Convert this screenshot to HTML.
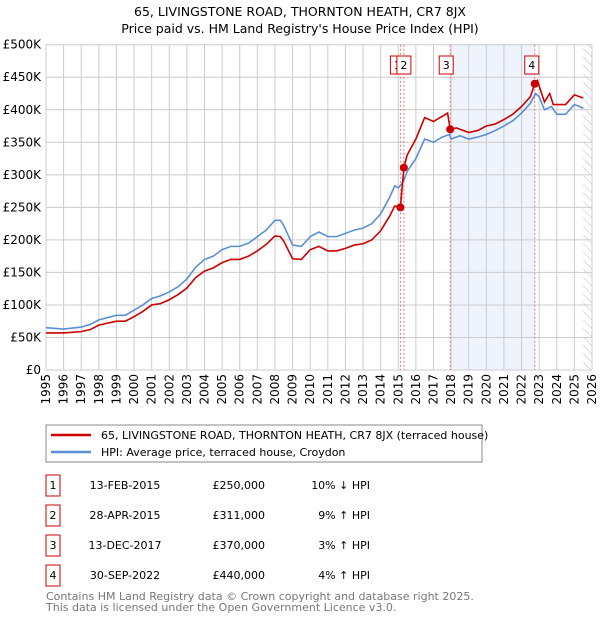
<!DOCTYPE html>
<html><head><meta charset="utf-8"><style>
body{margin:0;background:#fff;font-family:"Liberation Sans","DejaVu Sans",sans-serif}
svg{display:block}
</style></head><body>
<svg id="c" width="600" height="620" xmlns="http://www.w3.org/2000/svg" font-family="DejaVu Sans, Liberation Sans, sans-serif">
<text x="300" y="16" text-anchor="middle" font-size="12.5">65, LIVINGSTONE ROAD, THORNTON HEATH, CR7 8JX</text>
<text x="300" y="33" text-anchor="middle" font-size="12.5">Price paid vs. HM Land Registry's House Price Index (HPI)</text>
<g id="grid"></g><g id="marks"></g><g id="axes"></g>
<g>
<rect x="46" y="425" width="436" height="37" fill="#fff" stroke="#888"/>
<line x1="51" y1="435" x2="91" y2="435" stroke="#cc0000" stroke-width="2.5"/>
<text x="101" y="439" font-size="11">65, LIVINGSTONE ROAD, THORNTON HEATH, CR7 8JX (terraced house)</text>
<line x1="51" y1="452" x2="91" y2="452" stroke="#5b8fd4" stroke-width="2.5"/>
<text x="101" y="456" font-size="11">HPI: Average price, terraced house, Croydon</text>
</g>
<g id="table" font-size="11"></g>
<text x="46" y="600" font-size="11" fill="#777">Contains HM Land Registry data © Crown copyright and database right 2025.</text>
<text x="46" y="611" font-size="11" fill="#777">This data is licensed under the Open Government Licence v3.0.</text>
</svg>
<script>
const hpiYears=[1995,1996,1997,1997.5,1998,1999,1999.5,2000,2000.5,2001,2001.5,2002,2002.5,2003,2003.5,2004,2004.5,2005,2005.5,2006,2006.5,2007,2007.5,2008,2008.3,2008.5,2009,2009.5,2010,2010.5,2011,2011.5,2012,2012.5,2013,2013.5,2014,2014.5,2014.8,2015,2015.3,2015.5,2016,2016.5,2017,2017.5,2017.9,2018,2018.5,2019,2019.5,2020,2020.5,2021,2021.5,2022,2022.5,2022.8,2023,2023.3,2023.7,2024,2024.5,2025,2025.3,2025.5];
const hpiValues=[65,63,66,70,77,84,84,92,100,110,114,120,128,140,158,170,175,185,190,190,195,205,215,230,230,222,192,190,205,212,205,205,210,215,218,225,240,265,283,280,290,305,325,355,350,358,362,355,360,355,358,362,368,375,383,395,410,425,420,400,405,393,393,408,405,402];
const priceYears=[1995,1996,1997,1997.5,1998,1999,1999.5,2000,2000.5,2001,2001.5,2002,2002.5,2003,2003.5,2004,2004.5,2005,2005.5,2006,2006.5,2007,2007.5,2008,2008.3,2008.5,2009,2009.5,2010,2010.5,2011,2011.5,2012,2012.5,2013,2013.5,2014,2014.5,2014.8,2015.12,2015.32,2015.5,2016,2016.5,2017,2017.5,2017.8,2017.95,2018.3,2018.5,2019,2019.5,2020,2020.5,2021,2021.5,2022,2022.5,2022.75,2022.9,2023.3,2023.6,2023.8,2024,2024.5,2025,2025.3,2025.5];
const priceValues=[57,57,59,62,69,75,75,82,90,100,102,108,116,126,142,152,157,165,170,170,175,183,193,206,205,198,171,170,185,190,183,183,187,192,194,200,214,236,252,250,311,330,355,388,382,390,395,370,372,370,365,368,375,378,385,393,405,420,440,445,412,425,408,408,408,423,420,418];
const saleLabels=["1","2","3","4"];
const saleYears=[2015.12,2015.32,2017.95,2022.75];
const saleValues=[250,311,370,440];
const saleDates=["13-FEB-2015","28-APR-2015","13-DEC-2017","30-SEP-2022"];
const salePrices=["£250,000","£311,000","£370,000","£440,000"];
const saleHpi=["10% ↓ HPI","9% ↑ HPI","3% ↑ HPI","4% ↑ HPI"];
const yTicks=[0,50,100,150,200,250,300,350,400,450,500];
const xTicks=[1995,1996,1997,1998,1999,2000,2001,2002,2003,2004,2005,2006,2007,2008,2009,2010,2011,2012,2013,2014,2015,2016,2017,2018,2019,2020,2021,2022,2023,2024,2025,2026];
const X0=46,X1=592,Y0=370,Y1=44.7;
const xs=y=>X0+(y-1995)/(2026-1995)*(X1-X0);
const ys=v=>Y0-v/500*(Y0-Y1);
const NS="http://www.w3.org/2000/svg";
function mk(t,a,p){const e=document.createElementNS(NS,t);for(const k in a)e.setAttribute(k,a[k]);p.appendChild(e);return e;}
const grid=document.getElementById('grid'),marks=document.getElementById('marks'),axes=document.getElementById('axes'),table=document.getElementById('table');
let r=mk('rect',{x:xs(2017.95),y:Y1,width:xs(2022.75)-xs(2017.95),height:Y0-Y1,fill:'#eef3fc'},grid);


const defs=mk('defs',{},grid);
const pat=mk('pattern',{id:'h',width:6,height:6,patternUnits:'userSpaceOnUse',patternTransform:'rotate(-45)'},defs);
mk('line',{x1:0,y1:0,x2:0,y2:6,stroke:'#bbb','stroke-width':1},pat);
r=mk('rect',{x:xs(2025.5),y:Y1,width:X1-xs(2025.5),height:Y0-Y1,fill:'url(#h)'},grid);


yTicks.forEach(v=>{
 mk('line',{x1:X0,x2:X1,y1:ys(v),y2:ys(v),stroke:'#ccc'},grid);
 const t=mk('text',{x:X0-5,y:ys(v)+4,'text-anchor':'end','font-size':12},axes);t.textContent='£'+(v?v+'K':'0');
 
 
});
xTicks.forEach(y=>{
 mk('line',{x1:xs(y),x2:xs(y),y1:Y1,y2:Y0,stroke:'#ccc'},grid);
 const tx=xs(y)+4,ty=Y0+4;
 const t=mk('text',{x:tx,y:ty,'text-anchor':'end','font-size':12,transform:'rotate(-90 '+tx+' '+ty+')'},axes);t.textContent=y;
 
 
});
saleYears.forEach(y=>{mk('line',{x1:xs(y),x2:xs(y),y1:Y1,y2:Y0,stroke:'#f07070','stroke-dasharray':'2,2'},grid);});
let p=mk('polyline',{points:hpiYears.map((y,i)=>xs(y)+','+ys(hpiValues[i])).join(' '),fill:'none',stroke:'#5b8fd4','stroke-width':1.6},marks);


p=mk('polyline',{points:priceYears.map((y,i)=>xs(y)+','+ys(priceValues[i])).join(' '),fill:'none',stroke:'#cc0000','stroke-width':1.6},marks);


saleYears.forEach((y,i)=>{
 const c=mk('circle',{cx:xs(y),cy:ys(saleValues[i]),r:4,fill:'#cc0000'},marks);
 
 
 const bx=xs(y)-(i==0?10:i==1?7:i==2?11:10);
 const b=mk('rect',{x:bx,y:56,width:14,height:18,fill:'#fff',stroke:'#cc0000'},marks);
 
 
 const t=mk('text',{x:bx+7,y:69,'text-anchor':'middle','font-size':11},marks);t.textContent=saleLabels[i];
 
 
 const ry=483+i*30;
 const tb=mk('rect',{x:46,y:ry-8,width:14,height:21,fill:'#fff',stroke:'#cc0000'},table);
 
 
 const vals=[[saleLabels[i],53,'middle'],[saleDates[i],125,'middle'],[salePrices[i],265,'end'],[saleHpi[i],370,'end']];
 vals.forEach(v=>{const e=mk('text',{x:v[1],y:ry+6,'text-anchor':v[2]},table);e.textContent=v[0];
  
  });
});
</script>
</body></html>
